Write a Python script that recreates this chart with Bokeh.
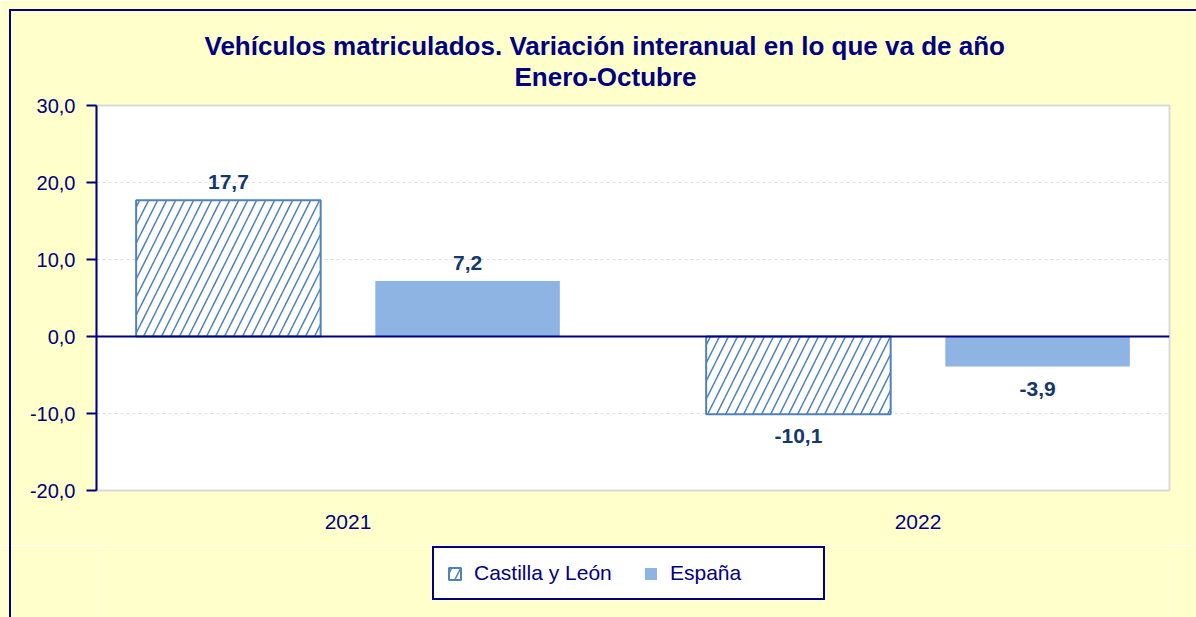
from bokeh.plotting import figure
from bokeh.layouts import column
from bokeh.models import (FactorRange, Range1d, Span, LabelSet, ColumnDataSource, Legend,
                          LegendItem, Title, InlineStyleSheet, FixedTicker, CustomJSTickFormatter)
from bokeh.core.properties import value
from bokeh.transform import dodge
from bokeh.embed import file_html
from bokeh.resources import INLINE

# ---- data ----
years = ["2021", "2022"]
series = ["Castilla y León", "España"]
castilla = [17.7, -10.1]
espana = [7.2, -3.9]
y_ticks = [-20, -10, 0, 10, 20, 30]
title_main = "Vehículos matriculados. Variación interanual en lo que va de año"
title_sub = "Enero-Octubre"

NAVY = "#000080"
FONT = "Liberation Sans"
LABEL_COLOR = "#14386B"
BG = "#FFFFCC"
W = 1196


def fmt(v):
    return f"{v:.1f}".replace(".", ",")


def css(top_border):
    tb = "border-top: 2px solid #000080; top: 9px;" if top_border else "top: 0;"
    return InlineStyleSheet(css=f""":host {{ position: relative; }}
:host::after {{ content: ""; position: absolute; left: 9px; right: 0; bottom: 0; {tb}
  border-left: 2px solid #000080; pointer-events: none; z-index: 10; }}""")


# ---- main chart ----
p = figure(width=W, height=545, output_backend="svg", toolbar_location=None,
           x_range=FactorRange(factors=years, range_padding=-0.0588,
                               range_padding_units="absolute"),
           y_range=Range1d(-20, 30),
           min_border_left=96, min_border_right=27, min_border_top=105, min_border_bottom=55)
p.border_fill_color = BG
p.background_fill_color = "white"
p.outline_line_color = "#DADADA"
p.outline_line_width = 2
p.stylesheets = [css(True)]

src = ColumnDataSource(dict(year=years, castilla=castilla, espana=espana))

cyl_style = dict(fill_color="white", line_color="#4F81BD", line_width=2,
                 hatch_pattern="/", hatch_color="#4F81BD", hatch_scale=18, hatch_weight=1.5)
esp_style = dict(fill_color="#8EB4E3", line_color=None)

p.vbar(x=dodge("year", -0.2098, range=p.x_range), top="castilla", width=0.3237,
       source=src, **cyl_style)
p.vbar(x=dodge("year", 0.2098, range=p.x_range), top="espana", width=0.3237,
       source=src, **esp_style)


def subset(vals, positive):
    keep = [(y, v) for y, v in zip(years, vals) if (v >= 0) == positive]
    return ColumnDataSource(dict(year=[k[0] for k in keep], v=[k[1] for k in keep],
                                 t=[fmt(k[1]) for k in keep]))


for vals, off in [(castilla, -0.2098), (espana, 0.2098)]:
    for positive in (True, False):
        s = subset(vals, positive)
        ls = LabelSet(x=dodge("year", off, range=p.x_range), y="v", text="t", source=s,
                      text_align="center",
                      text_baseline="bottom" if positive else "top",
                      y_offset=11 if positive else -15,
                      text_font=value(FONT), text_font_size="21px", text_font_style="bold",
                      text_color=LABEL_COLOR)
        p.add_layout(ls)

p.add_layout(Span(location=0, dimension="width", line_color=NAVY, line_width=2))

p.yaxis.ticker = FixedTicker(ticks=y_ticks)
p.yaxis.formatter = CustomJSTickFormatter(code="return tick.toFixed(1).replace('.', ',');")
p.yaxis.axis_line_color = NAVY
p.yaxis.axis_line_width = 2
p.yaxis.major_tick_line_color = NAVY
p.yaxis.major_tick_line_width = 2
p.yaxis.major_tick_out = 10
p.yaxis.major_tick_in = 0
p.yaxis.minor_tick_line_color = None
p.yaxis.major_label_text_font = FONT
p.yaxis.major_label_text_font_size = "20px"
p.yaxis.major_label_text_color = NAVY
p.yaxis.major_label_standoff = 11

p.xaxis.axis_line_color = None
p.xaxis.major_tick_line_color = None
p.xaxis.minor_tick_line_color = None
p.xaxis.major_tick_out = 0
p.xaxis.major_label_text_font = FONT
p.xaxis.major_label_text_font_size = "21px"
p.xaxis.major_label_text_color = NAVY
p.xaxis.major_label_standoff = 24

p.xgrid.grid_line_color = None
p.ygrid.ticker = FixedTicker(ticks=y_ticks)
p.ygrid.grid_line_color = "#DCDCDC"
p.ygrid.grid_line_dash = "3 3"
p.ygrid.grid_line_width = 1

# titles
p.add_layout(Title(text=title_sub, align="left", offset=418, text_font=FONT,
                   text_font_size="26px", text_font_style="bold", text_color=NAVY,
                   standoff=28), "above")
p.add_layout(Title(text=title_main, align="left", offset=108, text_font=FONT,
                   text_font_size="26px", text_font_style="bold", text_color=NAVY,
                   standoff=-31), "above")

# ---- legend strip (shares ranges and data with the chart) ----
pl = figure(width=W, height=72, output_backend="svg", toolbar_location=None,
            x_axis_type=None, y_axis_type=None, x_range=p.x_range, y_range=p.y_range,
            min_border_left=96, min_border_right=27, min_border_top=0, min_border_bottom=0)
pl.border_fill_color = BG
pl.background_fill_color = BG
pl.outline_line_color = None
pl.grid.visible = False
pl.stylesheets = [css(False)]
g_cyl = pl.vbar(x=dodge("year", -0.2098, range=p.x_range), top="castilla", width=0.3237,
                source=src, visible=False, **cyl_style)
g_esp = pl.vbar(x=dodge("year", 0.2098, range=p.x_range), top="espana", width=0.3237,
                source=src, visible=False, **esp_style)
legend = Legend(items=[LegendItem(label=series[0], renderers=[g_cyl]),
                       LegendItem(label=series[1], renderers=[g_esp])],
                location=(336, 17), orientation="horizontal",
                border_line_color=NAVY, border_line_width=2, border_line_alpha=1,
                background_fill_color="white", background_fill_alpha=1,
                inactive_fill_alpha=0,
                padding=13, spacing=29, margin=0,
                label_width=140, glyph_width=15, glyph_height=15, label_standoff=12,
                label_text_font=FONT, label_text_font_size="21px", label_text_color=NAVY)
pl.add_layout(legend, "center")

layout = column(p, pl, spacing=0)
open("out.html", "w").write(file_html(layout, INLINE))
